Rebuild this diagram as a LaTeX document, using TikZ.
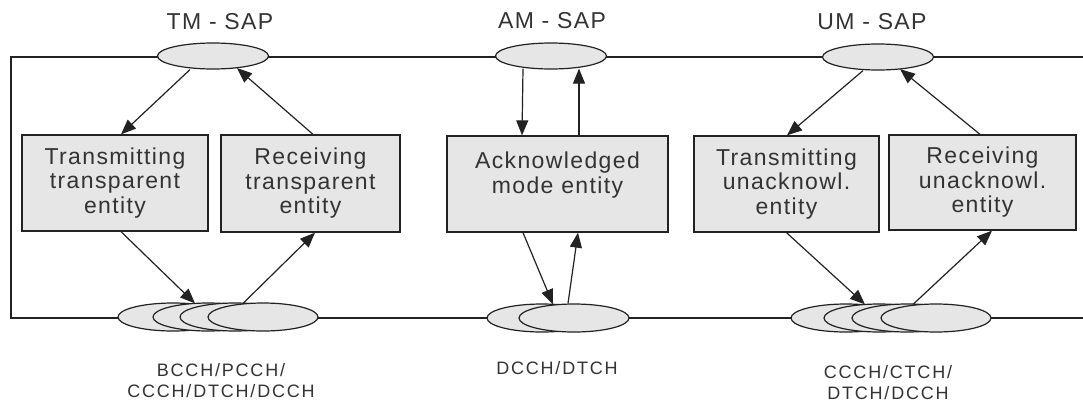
\documentclass[tikz,border=0pt]{standalone}
\usepackage{fontspec}
\setmainfont{Liberation Sans}
\newfontfamily\entfont{Liberation Sans}[LetterSpace=6]
\newfontfamily\chfont{Liberation Sans}[LetterSpace=10]
\usetikzlibrary{shapes.geometric,arrows.meta}
\definecolor{ink}{HTML}{222222}
\definecolor{txt}{HTML}{333333}
\definecolor{boxfill}{HTML}{E6E6E6}
\tikzset{
  frameline/.style={draw=ink,line width=1.3pt},
  entitybox/.style={rectangle,draw=ink,line width=1.3pt,fill=boxfill,inner sep=0pt,
    align=center,text=txt,font=\entfont\fontsize{23}{24.5}\selectfont},
  sap/.style={ellipse,draw=ink,line width=1.2pt,fill=boxfill,inner sep=0pt,
    minimum width=111pt,minimum height=26pt},
  chan/.style={ellipse,draw=ink,line width=1.2pt,fill=boxfill,inner sep=0pt,
    minimum width=110pt,minimum height=28pt},
  title/.style={text=txt,font=\entfont\fontsize{23}{24}\selectfont,inner sep=0pt},
  chlabel/.style={text=txt,align=center,font=\chfont\fontsize{18}{21}\selectfont,inner sep=0pt},
  flow/.style={draw=ink,line width=1.2pt,-{Triangle[length=15pt,width=12pt]}}
}
\begin{document}
\begin{tikzpicture}[x=1pt,y=-1pt]
\useasboundingbox (0,0) rectangle (1083,402);

% frame lines (upper SAP line, left side, lower channel line)
\coordinate (topR) at (1083,57);
\coordinate (topL) at (11,57);
\coordinate (botL) at (11,318);
\coordinate (botR) at (1083,318);
\draw[frameline] (topR) -- (topL) -- (botL) -- (botR);

% service access points
\node[sap] (tmsap) at (213,56) {};
\node[sap] (amsap) at (551,56) {};
\node[sap] (umsap) at (878,57) {};
\node[title] (tmt) at (220,22) {TM - SAP};
\node[title] (amt) at (552,21) {AM - SAP};
\node[title] (umt) at (872,22) {UM - SAP};

% RLC entities
\node[entitybox,minimum width=186pt,minimum height=96pt] (tmtx) at (115,183)
  {Transmitting\\transparent\\entity};
\node[entitybox,minimum width=179pt,minimum height=97pt] (tmrx) at (310.5,183.5)
  {Receiving\\transparent\\entity};
\node[entitybox,minimum width=221pt,minimum height=96pt,text depth=23pt] (amb) at (557.5,184)
  {Acknowledged\\mode entity};
\node[entitybox,minimum width=185pt,minimum height=96pt] (umtx) at (786.5,184)
  {Transmitting\\unacknowl.\\entity};
\node[entitybox,minimum width=187pt,minimum height=95pt] (umrx) at (982.5,182.5)
  {Receiving\\unacknowl.\\entity};

% logical channels (stacked ellipses)
\node[chan] (tm1) at (173,317) {};
\node[chan] (tm2) at (208,317) {};
\node[chan] (tm3) at (235,317) {};
\node[chan] (tm4) at (263,317) {};
\node[chan] (am1) at (542,318) {};
\node[chan] (am2) at (574,318) {};
\node[chan] (um1) at (846,318) {};
\node[chan] (um2) at (879,318) {};
\node[chan] (um3) at (907,318) {};
\node[chan] (um4) at (936,318) {};

\node[chlabel] (tmch) at (221,381) {BCCH/PCCH/\\CCCH/DTCH/DCCH};
\node[chlabel] (amch) at (557,368) {DCCH/DTCH};
\node[chlabel] (umch) at (888,383) {CCCH/CTCH/\\DTCH/DCCH};

% transparent mode
\draw[flow] ([xshift=-23pt]tmsap.south) -- ([xshift=6pt]tmtx.north);
\draw[flow] ([xshift=2.5pt]tmrx.north) -- ([xshift=24pt,yshift=1.5pt]tmsap.south);
\draw[flow] ([xshift=6pt]tmtx.south) -- ([xshift=-13pt,yshift=-1pt]tm2.north);
\draw[flow] ([xshift=-20pt,yshift=-1pt]tm4.north) -- ([xshift=4.5pt]tmrx.south);

% acknowledged mode
\draw[flow] ([xshift=-28pt,yshift=1pt]amsap.south) -- ([xshift=-35.5pt]amb.north);
\draw[flow] ([xshift=21.5pt]amb.north) -- ([xshift=28pt,yshift=1pt]amsap.south);
\draw[flow] ([xshift=-34.5pt]amb.south) -- ([xshift=-21pt,yshift=-1pt]am2.north);
\draw[flow] ([xshift=-6pt]am2.north) -- ([xshift=20.5pt]amb.south);

% unacknowledged mode
\draw[flow] ([xshift=-15pt]umsap.south) -- ([xshift=0.5pt]umtx.north);
\draw[flow] ([xshift=-2.5pt]umrx.north) -- ([xshift=22pt,yshift=1.5pt]umsap.south);
\draw[flow] (umtx.south) -- ([xshift=-14pt,yshift=-1pt]um2.north);
\draw[flow] ([xshift=-23pt,yshift=-1pt]um4.north) -- ([xshift=9.5pt]umrx.south);
\end{tikzpicture}
\end{document}
